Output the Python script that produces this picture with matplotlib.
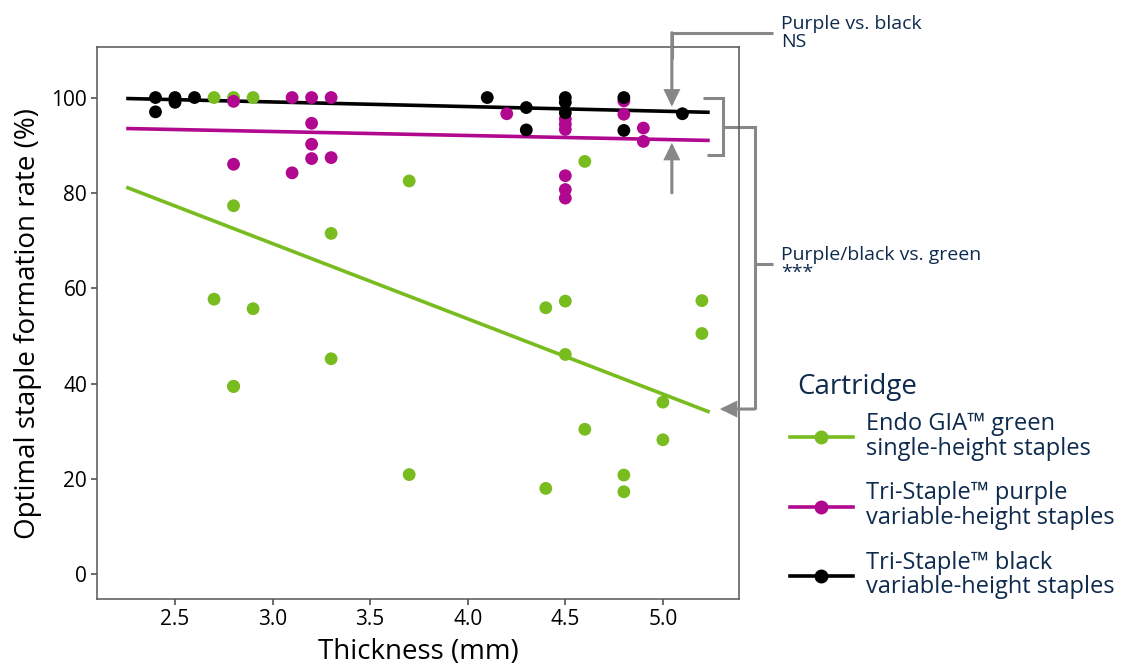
import numpy as np
import matplotlib.pyplot as plt
from matplotlib.lines import Line2D

plt.rcParams['font.family'] = ['Open Sans', 'DejaVu Sans']

# wall thickness (mm) and optimal staple formation rate (%)
green_x = [2.7, 2.8, 2.9, 2.8, 3.7, 2.8, 3.3, 2.7, 2.9, 3.3, 2.8, 3.7,
           4.4, 4.5, 4.5, 4.6, 4.4, 4.8, 4.8, 5.0, 5.0, 5.2, 5.2, 4.6]
green_y = [100, 100, 100, 77.3, 82.5, 39.4, 71.5, 57.7, 55.7, 45.2, 39.4, 20.9,
           55.9, 57.3, 46.1, 30.4, 18.0, 20.8, 17.3, 36.1, 28.2, 57.4, 50.5, 86.6]

purple_x = [2.8, 3.1, 3.2, 3.3, 3.2, 3.2, 3.2, 3.3, 2.8, 3.1,
            4.2, 4.5, 4.5, 4.5, 4.5, 4.5, 4.5, 4.8, 4.8, 4.9, 4.9]
purple_y = [99.2, 100, 100, 100, 94.6, 90.2, 87.2, 87.4, 86.0, 84.2,
            96.6, 95.5, 94.4, 93.3, 83.6, 80.7, 78.9, 99.3, 96.5, 93.6, 90.8]

black_x = [2.4, 2.4, 2.5, 2.5, 2.6, 4.1, 4.3, 4.3, 4.5, 4.5, 4.5, 4.8, 4.8, 5.1]
black_y = [100, 97.0, 100, 99.0, 100, 100, 97.9, 93.2, 100, 99.0, 96.8, 100, 93.1, 96.6]

# fitted lines (start / end values)
fit_x = [2.25, 5.24]
green_fit = [81.2, 34.0]
purple_fit = [93.5, 91.0]
black_fit = [99.8, 96.9]

labels = ["Endo GIA\u2122 green\nsingle-height staples",
          "Tri-Staple\u2122 purple\nvariable-height staples",
          "Tri-Staple\u2122 black\nvariable-height staples"]

GREEN = "#78bc1f"
PURPLE = "#b0088e"
BLACK = "#000000"
NAVY = "#0e2a4d"
GREY = "#878787"

fig = plt.figure(figsize=(11.26, 6.64), dpi=100)
ax = fig.add_axes([0.0861, 0.0979, 0.5702, 0.8313])

series = [(green_x, green_y, green_fit, GREEN),
          (purple_x, purple_y, purple_fit, PURPLE),
          (black_x, black_y, black_fit, BLACK)]
for xs, ys, fit, c in series:
    ax.plot(fit_x, fit, color=c, lw=2.6, zorder=2, solid_capstyle='butt')
for xs, ys, fit, c in series:
    ax.scatter(xs, ys, s=85, color=c, edgecolors='none', zorder=3)

ax.set_xlim(2.1, 5.39)
ax.set_ylim(-5.2, 110.6)
ax.set_xticks([2.5, 3.0, 3.5, 4.0, 4.5, 5.0])
ax.set_xticklabels(["2.5", "3.0", "3.5", "4.0", "4.5", "5.0"])
ax.set_yticks([0, 20, 40, 60, 80, 100])
for sp in ax.spines.values():
    sp.set_color("#555555")
    sp.set_linewidth(1.1)
ax.tick_params(colors="#444444", labelcolor="black", length=4, width=1.1,
               labelsize=15, pad=3)
ax.set_xlabel("Thickness (mm)", fontsize=20, labelpad=6)
ax.set_ylabel("Optimal staple formation rate (%)", fontsize=20, labelpad=7)

# significance annotations (outside the axes)
kw = dict(color=GREY, lw=2.2, clip_on=False, solid_capstyle='butt',
          solid_joinstyle='miter')
arr = dict(arrowstyle='-|>,head_length=0.45,head_width=0.22', color=GREY,
           lw=2.2, shrinkA=0, shrinkB=0, mutation_scale=20,
           joinstyle='miter')

ax.plot([5.563, 5.046, 5.046], [113.6, 113.6, 108], **kw)
ax.annotate("", xy=(5.046, 98.1), xytext=(5.046, 113.6),
            arrowprops=arr, annotation_clip=False)
ax.annotate("", xy=(5.046, 90.5), xytext=(5.046, 80.0),
            arrowprops=arr, annotation_clip=False)

ax.plot([5.205, 5.307, 5.307, 5.225], [99.85, 99.85, 87.9, 87.9], **kw)
ax.plot([5.307, 5.471, 5.471], [93.8, 93.8, 34.65], **kw)
ax.plot([5.471, 5.563], [65.1, 65.1], **kw)
ax.annotate("", xy=(5.292, 34.65), xytext=(5.471, 34.65),
            arrowprops=arr, annotation_clip=False)

ax.text(5.604, 113.6, "Purple vs. black\nNS", fontsize=14, color=NAVY,
        va='center', ha='left', linespacing=1.0)
ax.text(5.604, 65.1, "Purple/black vs. green\n***", fontsize=14, color=NAVY,
        va='center', ha='left', linespacing=1.0)

# legend: title placed separately so its gap to the entries can be set
fig.text(0.7078, 0.4172, "Cartridge", fontsize=20, color=NAVY,
         ha='left', va='center')
handles = [Line2D([], [], color=c, lw=2.6, marker='o', markersize=9)
           for c in (GREEN, PURPLE, BLACK)]
leg = fig.legend(handles, labels, loc='upper left',
                 bbox_to_anchor=(0.695, 0.3900), frameon=False, fontsize=17,
                 handlelength=2.67, handletextpad=0.55,
                 labelspacing=0.86, borderaxespad=0, borderpad=0.3)
for t in leg.get_texts():
    t.set_color(NAVY)
    t.set_linespacing(1.05)

fig.savefig("out.png", dpi=100)
